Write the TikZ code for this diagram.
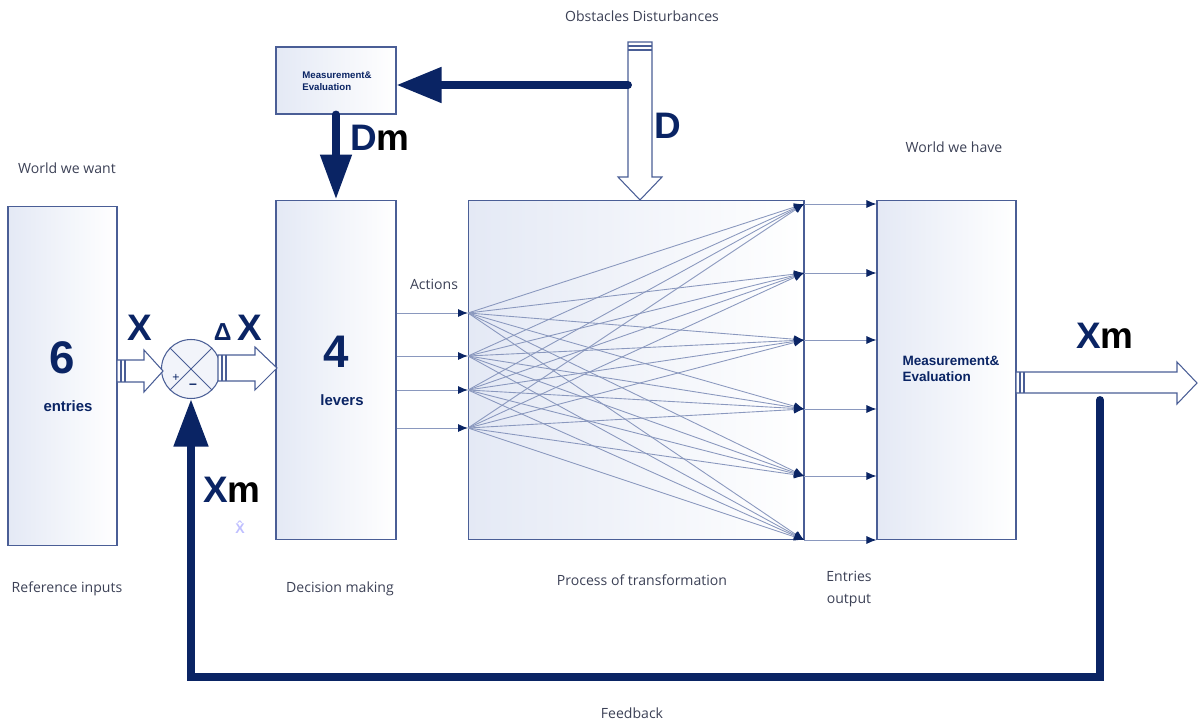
\documentclass[tikz,border=0pt]{standalone}
\usepackage{fontspec}
\setmainfont{Open Sans}
\newfontfamily\headfont{Liberation Sans}
\usetikzlibrary{arrows.meta, positioning}

\definecolor{navy}{HTML}{0A2464}
\definecolor{boxline}{HTML}{4A5E96}
\definecolor{fanline}{HTML}{8A98BE}
\definecolor{boxfill}{HTML}{E4E9F5}
\definecolor{labelgray}{HTML}{3C4156}

\begin{document}
\begin{tikzpicture}[x=0.02cm, y=-0.02cm]
    \tikzstyle{box}=[draw=boxline, line width=0.6pt, left color=boxfill, right color=white, minimum height=6.8cm, inner sep=0pt]
    \tikzstyle{lbl}=[text=labelgray, font=\fontsize{8}{12.5}\selectfont, align=center, inner sep=1pt]
    \tikzstyle{big}=[text=navy, font=\headfont\bfseries\fontsize{21}{24}\selectfont, inner sep=0pt]
    \tikzstyle{inlbl}=[text=navy, font=\headfont\bfseries\fontsize{8.5}{10}\selectfont, inner sep=0pt]
    \tikzstyle{hollow}=[draw=boxline, line width=0.6pt, fill=white, line join=miter]
    \tikzstyle{fat}=[navy, line width=4.5pt, line cap=round]
    \tikzstyle{fan}=[fanline, line width=0.5pt, -{Latex[length=2mm, width=1.6mm, color=navy]}]

    \useasboundingbox (0,0) rectangle (1201,723);

    % boxes
    \node[box, minimum width=2.18cm] (ref) at (62.5,376) {};
    \node[box, minimum width=2.4cm] (lev) at (336,370) {};
    \node[box, minimum width=2.4cm, minimum height=1.34cm] (meas) at (336,80.5) {};
    \node[box, minimum width=6.72cm] (proc) at (636,370) {};
    \node[box, minimum width=2.78cm] (eval) at (946.5,370) {};
    \node[draw=boxline, line width=0.6pt, circle, fill=boxfill!50, minimum size=1.18cm, inner sep=0pt] (sum) at (191,369) {};
    \draw[boxline, line width=0.5pt] (sum.north west) -- (sum.south east) (sum.north east) -- (sum.south west);

    % box texts
    \node[big, font=\headfont\bfseries\fontsize{26}{30}\selectfont] (six) at (62,358) {6};
    \node[inlbl] (entries) at (68,406) {entries};
    \node[big, font=\headfont\bfseries\fontsize{26}{30}\selectfont] (four) at (336,352) {4};
    \node[inlbl] (levers) at (342,400) {levers};
    \node[text=navy, font=\headfont\bfseries\fontsize{5.5}{6.5}\selectfont, align=left, inner sep=0pt] (measlbl) at (337,81) {Measurement\&\\Evaluation};
    \node[text=navy, font=\headfont\bfseries\fontsize{7.7}{9}\selectfont, align=left, inner sep=0pt] (evallbl) at (951,369) {Measurement\&\\Evaluation};
    \node[text=navy, font=\headfont\fontsize{7}{8}\selectfont, inner sep=0pt] (plus) at (176,378) {+};
    \node[text=navy, font=\headfont\bfseries\fontsize{8}{8}\selectfont, inner sep=0pt] (minus) at (193,386) {–};

    % hollow arrows
    \draw[hollow] (117,360) -- (144,360) -- (144,350) -- (163,371) -- (144,392) -- (144,382) -- (117,382) -- cycle;
    \draw[boxline, line width=0.6pt] (121,360) -- (121,382) (125,360) -- (125,382);
    \draw[hollow] (218,355) -- (255,355) -- (255,347) -- (277,368) -- (255,390) -- (255,381) -- (218,381) -- cycle;
    \draw[boxline, line width=0.6pt] (222,355) -- (222,381) (226,355) -- (226,381);
    \draw[hollow] (1016,372) -- (1177,372) -- (1177,362) -- (1197,383) -- (1177,404) -- (1177,393) -- (1016,393) -- cycle;
    \draw[boxline, line width=0.6pt] (1020,372) -- (1020,393) (1024,372) -- (1024,393);
    \draw[hollow] (628,42) -- (652,42) -- (652,177) -- (662,177) -- (640,200) -- (618,177) -- (628,177) -- cycle;
    \draw[boxline, line width=0.6pt] (628,46) -- (652,46) (628,50) -- (652,50);

    % dark arrows
    \coordinate (dtap) at (628,85);
    \coordinate (fb) at (1100,400);
    \draw[fat, -{Triangle[length=0.9cm, width=0.68cm]}] (dtap) -- (dtap -| meas.east);
    \draw[fat, -{Triangle[length=0.9cm, width=0.6cm]}] (meas.south) -- (lev.north);
    \draw[fat, line join=miter, -{Triangle[length=0.95cm, width=0.66cm]}] (fb) -- (fb |- 0,677) -| (sum.south);

    % actions and process
    \foreach \y [count=\i] in {313,356,390,428} \coordinate (in\i) at (468,\y);
    \foreach \y [count=\j] in {204,273,340,409,476,540} \coordinate (out\j) at (804,\y);
    \foreach \i in {1,...,4} {
        \draw[fan] (in\i -| lev.east) -- (in\i);
        \foreach \j in {1,...,6} \draw[fan] (in\i) -- (out\j);
    }
    \foreach \j in {1,...,6} \draw[fan] (out\j) -- (out\j -| eval.west);

    % variables
    \node[big] (xlbl) at (140,328) {X};
    \node[big] (dxlbl) at (238,328) {{\fontsize{14}{16}\selectfont Δ}\,X};
    \node[big] (dmlbl) at (380,138) {D\textcolor{black}{m}};
    \node[big] (dlbl) at (668,126) {D};
    \node[big] (xmout) at (1105,336) {X\textcolor{black}{m}};
    \node[big] (xmfb) at (232,490) {X\textcolor{black}{m}};
    \node[text=blue!25, font=\headfont\bfseries\fontsize{8}{8}\selectfont, inner sep=0pt] (hatx) at (240,527) {\^{X}};

    % labels
    \node[lbl] (obst) at (642,16) {Obstacles Disturbances};
    \node[lbl] (want) at (67,168) {World we want};
    \node[lbl] (have) at (954,147) {World we have};
    \node[lbl] (act) at (434,284) {Actions};
    \node[lbl] (refin) at (67,589) {Reference inputs};
    \node[lbl] (dec) at (340,589) {Decision making};
    \node[lbl] (proclbl) at (642,580) {Process of transformation};
    \node[lbl] (entout) at (849,589) {Entries\\output};
    \node[lbl] (fbl) at (632,713) {Feedback};
\end{tikzpicture}
\end{document}
